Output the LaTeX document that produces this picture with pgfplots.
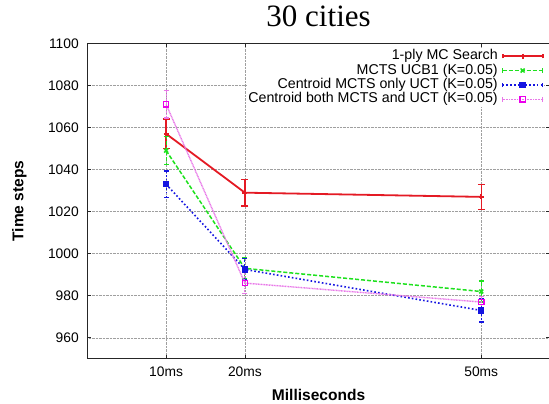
\documentclass[border=0pt]{standalone}
\usepackage{fontspec}
\setmainfont{Liberation Sans}
\newfontfamily\titlefont{Liberation Serif}
\usepackage{pgfplots}
\pgfplotsset{compat=1.18}

\definecolor{gpRed}{RGB}{228,26,36}
\definecolor{gpGreen}{RGB}{30,225,30}
\definecolor{gpBlue}{RGB}{20,20,225}
\definecolor{gpMag}{RGB}{235,0,235}
\definecolor{gpMagLine}{RGB}{232,120,232}

\begin{document}
\begin{tikzpicture}
\begin{axis}[
    name=ax,
    scale only axis,
    width=461.8pt, height=315pt,
    xmin=0, xmax=58.7, ymin=950, ymax=1100,
    xtick={10,20,50}, xticklabels={10ms,20ms,50ms},
    ytick={960,980,...,1100},
    grid=major,
    grid style={densely dotted, gray!75, line width=0.5pt},
    axis line style={gray!30!black, line width=0.8pt},
    tick style={gray!30!black, line width=0.6pt},
    major tick length=4pt,
    tick label style={font=\fontsize{13.8}{16}\selectfont},
    /pgf/number format/assume math mode=true,
    /pgf/number format/1000 sep={},
    xticklabel style={yshift=-4pt},
    yticklabel style={xshift=-5pt},
    title={30 cities},
    title style={font=\titlefont\fontsize{31}{36}\selectfont, at={(axis description cs:0.5,1.068)}, anchor=center},
    xlabel={Milliseconds}, ylabel={Time steps},
    label style={font=\fontsize{15.5}{18}\selectfont\bfseries},
    x label style={at={(axis description cs:0.5,-0.114)}, anchor=center},
    y label style={at={(axis description cs:-0.147,0.5)}, anchor=center},
    legend plot pos=right,
    legend cell align=right,
    legend style={at={(axis description cs:0.987,0.983)}, anchor=north east,
        draw=none, fill=white, inner sep=0pt,
        font=\fontsize{14.2}{16}\selectfont,
        nodes={inner sep=1pt, text height=9.8pt, text depth=2.6pt},
        column sep=3pt},
    legend image code/.code={
        \draw[mark repeat=2, mark phase=2, #1] plot coordinates {(0pt,0pt) (20pt,0pt) (40pt,0pt)};
        \draw[#1, solid] (0pt,-2.2pt) -- (0pt,2.2pt) (40pt,-2.2pt) -- (40pt,2.2pt);
    },
]
\addplot[color=gpRed, line width=1.8pt, mark=+, mark size=2.5pt, mark options={solid},
    error bars/.cd, y dir=both, y explicit,
    error bar style={line width=1.5pt, solid},
    error mark options={rotate=90, mark size=3.5pt, line width=1.5pt}]
    table[x=x, y=y, y error=e] {
x y e
10 1057 7
20 1029 6.3
50 1027 6
};
\addlegendentry{1-ply MC Search}
\addplot[color=gpGreen, line width=1.5pt, dash pattern=on 4pt off 2pt, mark=x, mark size=2.8pt, mark options={solid},
    error bars/.cd, y dir=both, y explicit,
    error bar style={line width=1.1pt},
    error mark options={rotate=90, mark size=2.5pt, line width=1.1pt}]
    table[x=x, y=y, y error=e] {
x y e
10 1049 6.5
20 993 5
50 982 5
};
\addlegendentry{MCTS UCB1 (K=0.05)}
\addplot[color=gpBlue, line width=1.6pt, dash pattern=on 1.6pt off 2.2pt, mark=square*, mark size=2.4pt, mark options={solid},
    error bars/.cd, y dir=both, y explicit,
    error bar style={line width=1.1pt},
    error mark options={rotate=90, mark size=2.5pt, line width=1.1pt}]
    table[x=x, y=y, y error=e] {
x y e
10 1033 6.3
20 992.5 5
50 973 5.5
};
\addlegendentry{Centroid MCTS only UCT (K=0.05)}
\addplot[color=gpMagLine, line width=1.4pt, dash pattern=on 1pt off 0.6pt, mark=square, mark size=2.6pt, mark options={solid, gpMag, line width=1.3pt},
    error bars/.cd, y dir=both, y explicit,
    error bar style={line width=1.1pt},
    error mark options={rotate=90, mark size=2.5pt, line width=1.1pt}]
    table[x=x, y=y, y error=e] {
x y e
10 1071 6.5
20 986 5
50 977 2.5
};
\addlegendentry{Centroid both MCTS and UCT (K=0.05)}
\end{axis}
\pgfresetboundingbox
\path[use as bounding box] ([shift={(-87.2pt,-44.7pt)}]ax.south west) rectangle ([shift={(-0.8pt,43.3pt)}]ax.north east);
\end{tikzpicture}
\end{document}
